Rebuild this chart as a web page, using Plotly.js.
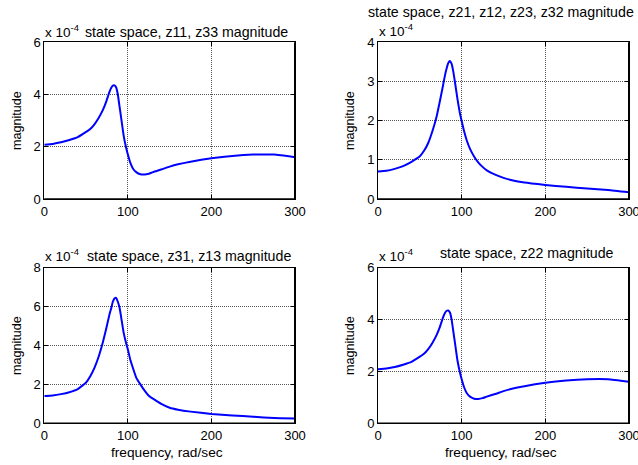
<!DOCTYPE html>
<html>
<head>
<meta charset="utf-8">
<script src="https://cdn.plot.ly/plotly-3.0.1.min.js"></script>
<style>html,body{margin:0;padding:0;background:#fff;}#chart{width:638px;height:465px;}</style>
</head>
<body>
<div id="chart"></div>
<script>
// frequency, rad/sec
const freq = [0,10,20,30,40,50,55,60,65,70,74,78,80,82,84,86,88,90,92,95,98,100,103,106,110,115,120,125,130,140,150,160,175,200,225,250,275,300];
// magnitudes in units of 1e-4
const z11 = [2.08,2.11,2.17,2.26,2.37,2.57,2.68,2.86,3.1,3.4,3.72,4.1,4.25,4.34,4.35,4.27,4.0,3.55,3.1,2.42,1.95,1.7,1.38,1.17,1.03,0.95,0.94,0.97,1.03,1.13,1.24,1.33,1.43,1.56,1.65,1.70,1.70,1.60];
const z21 = [0.70,0.72,0.77,0.84,0.95,1.09,1.23,1.43,1.73,2.1,2.5,2.93,3.15,3.33,3.47,3.52,3.45,3.25,2.98,2.55,2.18,1.99,1.72,1.5,1.28,1.08,0.93,0.82,0.73,0.62,0.54,0.48,0.42,0.36,0.31,0.27,0.23,0.17];
const z31 = [1.40,1.43,1.50,1.60,1.76,2.1,2.42,2.85,3.42,4.15,4.85,5.6,5.9,6.25,6.42,6.45,6.25,5.95,5.45,4.65,4.1,3.8,3.25,2.85,2.35,2.0,1.68,1.42,1.27,1.0,0.8,0.7,0.6,0.48,0.4,0.34,0.27,0.25];
const z22 = [2.08,2.11,2.17,2.26,2.37,2.57,2.68,2.86,3.1,3.4,3.72,4.1,4.25,4.34,4.35,4.27,4.0,3.55,3.1,2.42,1.95,1.7,1.38,1.17,1.03,0.95,0.94,0.97,1.03,1.13,1.24,1.33,1.43,1.56,1.65,1.70,1.70,1.60];

const titles = ["state space, z11, z33 magnitude","state space, z21, z12, z23, z32 magnitude","state space, z31, z13 magnitude","state space, z22 magnitude"];
const xTicks = [0,100,200,300];
const yTicks = [[0,2,4,6],[0,1,2,3,4],[0,2,4,6,8],[0,2,4,6]];
const xLabel = "frequency, rad/sec";
const yLabel = "magnitude";
const scaleLabel = "x 10<sup>-4</sup>";

const W = 638, H = 465;
const px = x => x / W;
const py = y => 1 - y / H;

// plot boxes in pixels [left, right, top, bottom]
const boxes = [[44.3,295,42.3,199],[378,629,42.3,199],[44.3,295,267.7,423.3],[378,629,267.7,423.3]];
const series = [z11, z21, z31, z22];

const data = [];
const layout = {
  width: W, height: H,
  margin: {l:0, r:0, t:0, b:0},
  paper_bgcolor: '#fff', plot_bgcolor: '#fff',
  showlegend: false,
  font: {family: 'Liberation Sans, Arial, sans-serif', size: 13, color: '#000'},
  annotations: [],
  shapes: []
};

series.forEach((ys, i) => {
  const n = i === 0 ? '' : String(i + 1);
  data.push({
    x: freq, y: ys, type: 'scatter', mode: 'lines',
    line: {color: '#0000ff', width: 2, shape: 'spline', smoothing: 0.4},
    xaxis: 'x' + n, yaxis: 'y' + n, hoverinfo: 'skip'
  });
  const b = boxes[i];
  const yt = yTicks[i];
  const common = {
    showline: true, linecolor: '#000', linewidth: 1, mirror: 'ticks',
    ticks: 'inside', ticklen: 4, tickcolor: '#000', tickwidth: 1,
    showgrid: true, gridcolor: '#555', griddash: '1px,1px', gridwidth: 1,
    zeroline: false, fixedrange: true, ticklabeloverflow: 'allow',
    tickfont: {size: 13, color: '#000'}
  };
  layout['xaxis' + n] = Object.assign({}, common, {
    domain: [px(b[0]), px(b[1])], anchor: 'y' + n,
    range: [0, 300], tickvals: xTicks, ticktext: xTicks.map(String)
  });
  layout['yaxis' + n] = Object.assign({}, common, {
    domain: [py(b[3]), py(b[2])], anchor: 'x' + n,
    range: [0, yt[yt.length - 1]], tickvals: yt, ticktext: yt.map(String)
  });
  // heavier right and bottom edges of the box, as in the reference
  layout.shapes.push({type: 'line', xref: 'x' + n + ' domain', yref: 'y' + n + ' domain',
    x0: 1, x1: 1, y0: 0, y1: 1, line: {color: '#000', width: 2}});
  layout.shapes.push({type: 'line', xref: 'x' + n + ' domain', yref: 'y' + n + ' domain',
    x0: 0, x1: 1, y0: 0, y1: 0, line: {color: '#000', width: 1.6}});
});

const A = layout.annotations;
const ann = (text, x, y, xanchor, size, extra) => A.push(Object.assign({
  text: text, xref: 'paper', yref: 'paper', x: px(x), y: py(y),
  xanchor: xanchor, yanchor: 'middle', showarrow: false,
  font: {size: size, color: '#000'}
}, extra || {}));

// scale labels
ann(scaleLabel, 43, 31, 'left', 13.5);
ann(scaleLabel, 377, 30, 'left', 13.5);
ann(scaleLabel, 43, 255, 'left', 13.5);
ann(scaleLabel, 377, 255, 'left', 13.5);
// titles
ann(titles[0], 83, 32, 'left', 14.2);
ann(titles[1], 501, 12, 'center', 14.2);
ann(titles[2], 85, 256, 'left', 14.2);
ann(titles[3], 438, 253, 'left', 14.2);
// x labels
ann(xLabel, 167, 452, 'center', 13.7);
ann(xLabel, 501, 452, 'center', 13.7);
// y labels
ann(yLabel, 17, 121, 'center', 12.6, {textangle: -90});
ann(yLabel, 350, 121, 'center', 12.6, {textangle: -90});
ann(yLabel, 17, 346, 'center', 12.6, {textangle: -90});
ann(yLabel, 350, 346, 'center', 12.6, {textangle: -90});

Plotly.newPlot('chart', data, layout, {staticPlot: true, displayModeBar: false});
</script>
</body>
</html>
